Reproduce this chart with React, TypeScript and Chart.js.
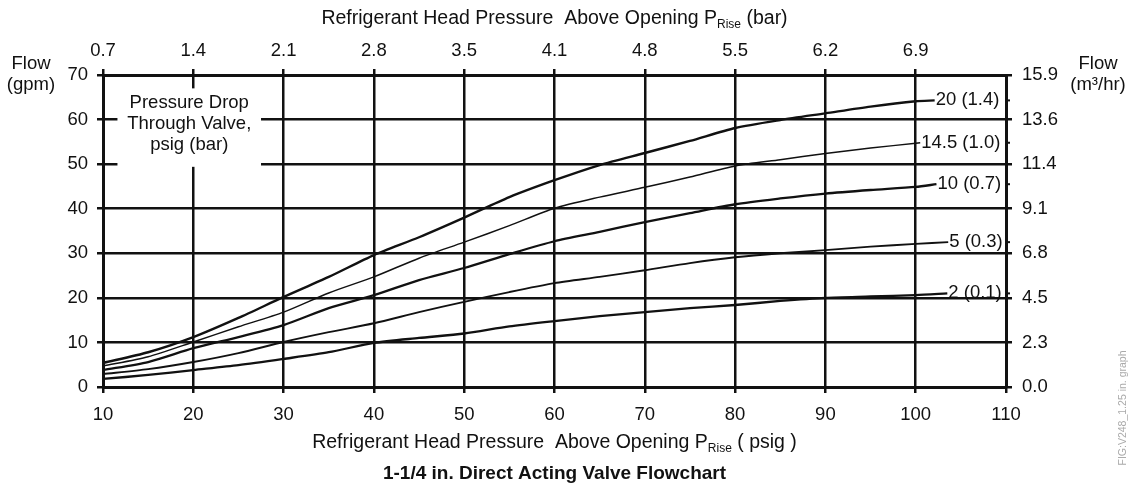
import { useEffect, useRef } from 'react';
import { Chart, registerables } from 'chart.js';

Chart.register(...registerables);

// Pressure rise (psig) sample positions
const psigPoints = [10, 15, 20, 25, 30, 35, 40, 45, 50, 55, 60, 65, 70, 75, 80, 85, 90, 95, 100];

// Flow (gpm) for each pressure-drop curve
const flow20 = [5.4, 7.8, 11.2, 15.5, 20.2, 24.7, 29.6, 33.6, 38.0, 42.6, 46.4, 49.8, 52.5, 55.2, 58.1, 59.9, 61.4, 62.9, 64.1];
const flow14_5 = [4.7, 6.8, 10.1, 13.5, 16.8, 21.1, 24.7, 28.9, 32.5, 36.2, 40.1, 42.6, 44.8, 47.1, 49.6, 51.0, 52.4, 53.6, 54.7];
const flow10 = [3.8, 5.6, 8.7, 11.2, 13.9, 17.7, 20.6, 24.0, 26.7, 29.8, 32.7, 34.8, 37.0, 39.0, 41.0, 42.3, 43.4, 44.2, 44.9];
const flow5 = [2.9, 4.0, 5.6, 7.6, 10.1, 12.3, 14.3, 16.8, 19.1, 21.3, 23.3, 24.7, 26.2, 27.8, 29.1, 30.0, 30.7, 31.5, 32.1];
const flow2 = [1.8, 2.7, 3.8, 4.9, 6.3, 7.8, 9.9, 11.0, 12.0, 13.6, 14.8, 15.9, 16.8, 17.7, 18.4, 19.3, 20.0, 20.3, 20.6];

// Curve end points (where the labels sit)
const endPsig = [102.1, 100.5, 102.3, 103.6, 103.5];
const endFlow = [64.3, 54.8, 45.5, 32.5, 21.0];

const seriesLabels = ['20 (1.4)', '14.5 (1.0)', '10 (0.7)', '5 (0.3)', '2 (0.1)'];
const seriesWidths = [2.4, 1.5, 2.3, 1.9, 2.3];

// Tick labels
const barTickLabels = ['0.7', '1.4', '2.1', '2.8', '3.5', '4.1', '4.8', '5.5', '6.2', '6.9'];
const m3TickLabels = ['0.0', '2.3', '4.5', '6.8', '9.1', '11.4', '13.6', '15.9'];

const FONT = '"Liberation Sans", Arial, Helvetica, sans-serif';
const INK = '#111';

export default function App() {
  const ref = useRef<HTMLCanvasElement>(null);

  useEffect(() => {
    if (!ref.current) return;
    const allFlows = [flow20, flow14_5, flow10, flow5, flow2];
    const datasets = allFlows.map((vals, i) => ({
      label: seriesLabels[i],
      data: psigPoints.map((x, j) => ({ x, y: vals[j] })).concat([{ x: endPsig[i], y: endFlow[i] }]),
      borderColor: INK,
      borderWidth: seriesWidths[i],
      pointRadius: 0,
      tension: 0.25,
      fill: false,
      xAxisID: 'x',
      yAxisID: 'y',
    }));

    const textPlugin = {
      id: 'texts',
      beforeDatasetsDraw(chart: any) {
        const { ctx, scales } = chart;
        const x = scales.x, y = scales.y;
        const l = x.getPixelForValue(11.6), r = x.getPixelForValue(27.5);
        const t = y.getPixelForValue(67.0), b = y.getPixelForValue(49.4);
        ctx.save();
        ctx.fillStyle = '#fff';
        ctx.fillRect(l, t, r - l, b - t);
        ctx.fillStyle = INK;
        ctx.font = `18.5px ${FONT}`;
        ctx.textAlign = 'center';
        ctx.textBaseline = 'middle';
        const cx = (l + r) / 2;
        ctx.fillText('Pressure Drop', cx, t + 15);
        ctx.fillText('Through Valve,', cx, t + 36);
        ctx.fillText('psig (bar)', cx, t + 57);
        ctx.restore();
      },
      afterDraw(chart: any) {
        const { ctx, chartArea, scales } = chart;
        const x = scales.x, y = scales.y;
        const cx = (chartArea.left + chartArea.right) / 2;
        ctx.save();
        ctx.fillStyle = INK;
        ctx.strokeStyle = INK;
        ctx.textBaseline = 'alphabetic';

        const drawSubTitle = (main: string, sub: string, tail: string, centerX: number, baseY: number) => {
          ctx.font = `19.5px ${FONT}`;
          const w1 = ctx.measureText(main).width;
          const w3 = ctx.measureText(tail).width;
          ctx.font = `12px ${FONT}`;
          const w2 = ctx.measureText(sub).width;
          let sx = centerX - (w1 + w2 + w3) / 2;
          ctx.textAlign = 'left';
          ctx.font = `19.5px ${FONT}`;
          ctx.fillText(main, sx, baseY);
          sx += w1;
          ctx.font = `12px ${FONT}`;
          ctx.fillText(sub, sx, baseY + 4);
          sx += w2;
          ctx.font = `19.5px ${FONT}`;
          ctx.fillText(tail, sx, baseY);
        };
        drawSubTitle('Refrigerant Head Pressure  Above Opening P', 'Rise', ' (bar)', cx, 24);
        drawSubTitle('Refrigerant Head Pressure  Above Opening P', 'Rise', ' ( psig )', cx, 448);

        ctx.font = `bold 19px ${FONT}`;
        ctx.textAlign = 'center';
        ctx.fillText('1-1/4 in. Direct Acting Valve Flowchart', cx, 479);

        ctx.font = `18.5px ${FONT}`;
        ctx.textBaseline = 'middle';
        ctx.fillText('Flow', 31, 64);
        ctx.fillText('(gpm)', 31, 85);
        ctx.fillText('Flow', 1098, 64);
        ctx.fillText('(m³/hr)', 1098, 85);

        // series labels
        ctx.textAlign = 'left';
        for (let i = 0; i < seriesLabels.length; i++) {
          const px = x.getPixelForValue(endPsig[i]);
          const py = y.getPixelForValue(endFlow[i]);
          ctx.fillText(seriesLabels[i], px + 1, py);
          ctx.lineWidth = 2;
          ctx.beginPath();
          ctx.moveTo(chartArea.right, py);
          ctx.lineTo(chartArea.right + 4, py);
          ctx.stroke();
        }

        // figure id
        ctx.save();
        ctx.translate(1123, 408);
        ctx.rotate(-Math.PI / 2);
        ctx.font = `10.5px ${FONT}`;
        ctx.fillStyle = '#aaaaaa';
        ctx.textAlign = 'center';
        ctx.fillText('FIG:V248_1.25 in. graph', 0, 0);
        ctx.restore();

        ctx.restore();
      },
    };

    const gridCommon = { color: INK, lineWidth: 2.5, tickLength: 6, tickWidth: 2.5, tickColor: INK };
    const tickFont = { family: FONT, size: 18.5 };

    const chart = new Chart(ref.current, {
      type: 'line',
      data: { datasets },
      plugins: [textPlugin],
      options: {
        animation: false,
        responsive: false,
        maintainAspectRatio: false,
        layout: { padding: 0 },
        plugins: { legend: { display: false }, tooltip: { enabled: false }, title: { display: false } },
        scales: {
          x: {
            type: 'linear',
            position: 'bottom',
            min: 10,
            max: 110,
            ticks: { stepSize: 10, color: INK, font: tickFont, padding: 11, maxRotation: 0, autoSkip: false },
            grid: { ...gridCommon },
            border: { color: INK, width: 3 },
            afterFit(s: any) { s.height = 108; },
          },
          x2: {
            type: 'linear',
            position: 'top',
            min: 10,
            max: 110,
            ticks: {
              stepSize: 10,
              color: INK,
              font: tickFont,
              padding: 7,
              maxRotation: 0,
              autoSkip: false,
              callback: (v: any) => {
                const idx = Math.round((Number(v) - 10) / 10);
                return barTickLabels[idx] ?? '';
              },
            },
            grid: {
              ...gridCommon,
              drawOnChartArea: false,
              tickColor: (c: any) => (c.tick && c.tick.value > 105 ? 'rgba(0,0,0,0)' : INK),
            },
            border: { color: INK, width: 3 },
            afterFit(s: any) { s.height = 75; },
          },
          y: {
            type: 'linear',
            position: 'left',
            min: 0,
            max: 70,
            ticks: { stepSize: 10, color: INK, font: tickFont, padding: 9 },
            grid: { ...gridCommon },
            border: { color: INK, width: 3 },
            afterFit(s: any) { s.width = 103; },
          },
          y2: {
            type: 'linear',
            position: 'right',
            min: 0,
            max: 70,
            ticks: {
              stepSize: 10,
              color: INK,
              font: tickFont,
              padding: 10,
              callback: (v: any) => m3TickLabels[Math.round(Number(v) / 10)] ?? '',
            },
            grid: { ...gridCommon, drawOnChartArea: false },
            border: { color: INK, width: 3 },
            afterFit(s: any) { s.width = 129; },
          },
        },
      },
    } as any);

    return () => chart.destroy();
  }, []);

  return (
    <div style={{ position: 'fixed', left: 0, top: 0, width: 1135, height: 495, background: '#fff' }}>
      <canvas ref={ref} width={1135} height={495} style={{ display: 'block', width: 1135, height: 495 }} />
    </div>
  );
}
